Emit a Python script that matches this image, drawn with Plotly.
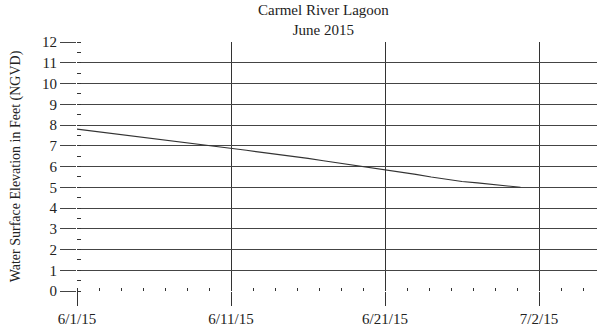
import plotly.graph_objects as go

# Days after 6/1/15
days = [0, 1, 2, 3, 4, 5, 6, 7, 8, 9, 10, 11, 12, 13, 14, 15, 16, 17, 18, 19,
        20, 21, 22, 23, 24, 25, 26, 27, 27.5, 28, 28.4, 28.8]
elev = [7.80, 7.71, 7.62, 7.53, 7.43, 7.34, 7.24, 7.15, 7.06, 6.97,
        6.87, 6.78, 6.68, 6.59, 6.49, 6.39, 6.28, 6.17, 6.07, 5.97,
        5.86, 5.74, 5.62, 5.49, 5.37, 5.28, 5.21, 5.14, 5.12, 5.05, 5.04, 5.00]

tick_vals = [0, 10, 20, 30]
tick_text = ["6/1/15", "6/11/15", "6/21/15", "7/2/15"]
y_ticks = list(range(0, 13))
title_lines = ["Carmel River Lagoon", "June 2015"]

font = "Liberation Serif, Times New Roman, serif"
plot_h = 249

fig = go.Figure()
fig.add_trace(go.Scatter(x=days, y=elev, mode="lines",
                         line=dict(color="#333", width=1.1), showlegend=False))

fig.add_annotation(text="<br>".join(title_lines), xref="paper", yref="paper",
                   x=(323 - 77) / 520, y=1 + (42 - 20) / plot_h,
                   xanchor="center", yanchor="middle", showarrow=False,
                   align="center",
                   font=dict(family=font, size=15, color="#222"))

fig.update_layout(
    width=597, height=329,
    margin=dict(l=77, r=0, t=42, b=38),
    paper_bgcolor="white", plot_bgcolor="white",
    font=dict(family=font, size=15, color="#222"),
    xaxis=dict(range=[0, 520 / 15.4], tickvals=tick_vals, ticktext=tick_text,
               showgrid=True, gridcolor="#333", gridwidth=1,
               ticks="outside", ticklen=14, tickcolor="#333", tickwidth=1,
               showline=False, zeroline=False,
               tickfont=dict(family=font, size=15, color="#222"),
               minor=dict(dtick=10 / 7, tick0=0, ticks="inside", ticklen=3,
                          tickcolor="#333", showgrid=False)),
    yaxis=dict(range=[0, 12], tickvals=y_ticks,
               showgrid=True, gridcolor="#444", gridwidth=1.3,
               ticks="outside", ticklen=16, tickcolor="#444", tickwidth=1.3,
               showline=False, zeroline=False,
               tickfont=dict(family=font, size=15, color="#222"),
               title=dict(text="Water Surface Elevation in Feet (NGVD)", standoff=18,
                          font=dict(family=font, size=14, color="#222")),
               minor=dict(dtick=0.5, tick0=0, ticks="inside", ticklen=4,
                          tickcolor="#333", showgrid=False)),
)

fig.write_html("out.html")
